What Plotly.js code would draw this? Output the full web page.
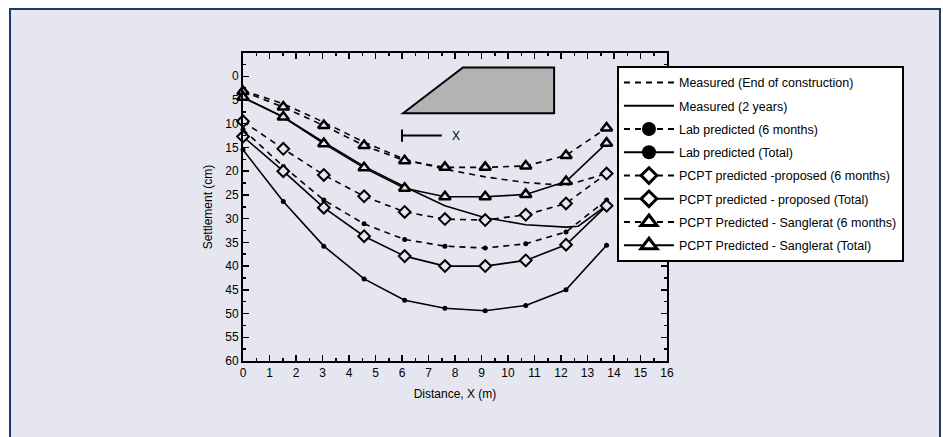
<!DOCTYPE html>
<html>
<head>
<meta charset="utf-8">
<script src="https://cdn.plot.ly/plotly-3.0.1.min.js"></script>
<style>
  html, body { margin: 0; padding: 0; background: #ffffff; }
  #frame { position: absolute; left: 9px; top: 8px; width: 928px; height: 440px;
           border: 2px solid #1b3b6b; background: #e6e6f0; }
  #chart { position: absolute; left: 0; top: 0; width: 943px; height: 437px; }
</style>
</head>
<body>
<div id="frame"></div>
<div id="chart"></div>
<script>
// Distance (m)
const distance = [0, 1.52, 3.05, 4.57, 6.10, 7.62, 9.14, 10.67, 12.19, 13.72];
const distanceMeasured2y = [0, 1.52, 3.05, 4.57, 6.10, 7.62, 9.14, 10.67, 12.19, 12.65, 13.72];

// Settlement (cm)
const measuredEOC   = [3.0, 5.8, 9.7, 13.9, 17.5, 19.6, 21.2, 22.4, 23.0, 20.5];
const measured2y    = [4.5, 8.6, 13.9, 19.0, 23.3, 27.3, 29.8, 31.3, 31.8, 31.6, 27.2];
const lab6m         = [11.2, 19.0, 26.1, 31.1, 34.4, 35.8, 36.2, 35.3, 32.8, 26.1];
const labTotal      = [15.5, 26.4, 35.8, 42.7, 47.2, 48.9, 49.4, 48.3, 45.0, 35.6];
const pcptProp6m    = [9.5, 15.3, 20.8, 25.3, 28.6, 30.1, 30.3, 29.2, 26.8, 20.5];
const pcptPropTotal = [12.7, 20.0, 27.7, 33.7, 37.9, 40.0, 40.0, 38.8, 35.5, 27.3];
const sang6m        = [3.2, 6.5, 10.4, 14.6, 17.8, 19.2, 19.2, 18.9, 16.7, 10.9];
const sangTotal     = [4.4, 8.6, 14.2, 19.3, 23.6, 25.4, 25.4, 24.9, 22.2, 14.1];

const seriesNames = [
  'Measured (End of construction)',
  'Measured (2 years)',
  'Lab predicted (6 months)',
  'Lab predicted (Total)',
  'PCPT predicted -proposed (6 months)',
  'PCPT predicted - proposed (Total)',
  'PCPT Predicted - Sanglerat (6 months)',
  'PCPT Predicted - Sanglerat (Total)'
];
const xTickVals = [0,1,2,3,4,5,6,7,8,9,10,11,12,13,14,15,16];
const yTickVals = [0,5,10,15,20,25,30,35,40,45,50,55,60];

const BG = '#e6e6f0';
const DASH = '6px,5px';
const LW = 1.6;

function styleFor(i, legend) {
  const dashed = (i % 2 === 0);
  const line = { color: 'black', width: legend ? 2 : LW, dash: dashed ? DASH : 'solid' };
  let marker = null, mode = 'lines';
  if (i === 2 || i === 3) {
    mode = 'lines+markers';
    marker = { symbol: 'circle', size: legend ? 14 : 5, color: 'black' };
  } else if (i === 4 || i === 5) {
    mode = 'lines+markers';
    marker = { symbol: 'diamond', size: legend ? 12 : 9, color: legend ? 'white' : BG,
               line: { color: 'black', width: legend ? 3 : 2 } };
  } else if (i === 6 || i === 7) {
    mode = 'lines+markers';
    marker = { symbol: 'triangle-up', size: legend ? 14 : 10, color: legend ? 'white' : BG,
               line: { color: 'black', width: legend ? 3 : 2.5 } };
  }
  return { line, marker, mode };
}

const ys = [measuredEOC, measured2y, lab6m, labTotal, pcptProp6m, pcptPropTotal, sang6m, sangTotal];
const xs = [distance, distanceMeasured2y, distance, distance, distance, distance, distance, distance];

const traces = [];
ys.forEach((y, i) => {
  const s = styleFor(i, false);
  const t = { x: xs[i], y: y, type: 'scatter', mode: s.mode, line: s.line, showlegend: false,
              hoverinfo: 'skip', cliponaxis: false };
  if (s.marker) t.marker = s.marker;
  traces.push(t);
});
// legend entries
seriesNames.forEach((name, i) => {
  const s = styleFor(i, true);
  const t = { x: [null], y: [null], type: 'scatter', mode: s.mode, line: s.line, name: name,
              legendgroup: 'g' + i, showlegend: true };
  if (s.marker) t.marker = s.marker;
  traces.push(t);
});

const FONT = 'Liberation Sans, Arial, sans-serif';

const layout = {
  width: 943, height: 437,
  paper_bgcolor: 'rgba(0,0,0,0)',
  plot_bgcolor: BG,
  margin: { l: 243, r: 276, t: 53, b: 76 },
  font: { family: FONT, size: 12, color: 'black' },
  showlegend: true,
  legend: {
    x: 0.882, y: 0.958, xanchor: 'left', yanchor: 'top',
    bgcolor: 'white', bordercolor: 'black', borderwidth: 2,
    font: { family: FONT, size: 12.5, color: 'black' },
    traceorder: 'grouped', tracegroupgap: 4, itemwidth: 50
  },
  xaxis: {
    range: [0, 16], tickmode: 'array', tickvals: xTickVals,
    ticks: 'inside', ticklen: 6, tickwidth: 1.5, tickcolor: 'black',
    showline: true, linecolor: 'black', linewidth: 2, mirror: 'ticks',
    showgrid: false, zeroline: false,
    minor: { dtick: 0.5, tick0: 0, ticks: 'inside', ticklen: 3, tickwidth: 1.5, tickcolor: 'black', showgrid: false },
    tickfont: { family: FONT, size: 12 },
    title: { text: 'Distance, X (m)', font: { family: FONT, size: 12 }, standoff: 10 }
  },
  yaxis: {
    range: [60, -4.9], tickmode: 'array', tickvals: yTickVals,
    ticks: 'inside', ticklen: 6, tickwidth: 1.5, tickcolor: 'black',
    showline: true, linecolor: 'black', linewidth: 2, mirror: 'ticks',
    showgrid: false, zeroline: false,
    minor: { dtick: 2.5, tick0: 0, ticks: 'inside', ticklen: 3, tickwidth: 1.5, tickcolor: 'black', showgrid: false },
    tickfont: { family: FONT, size: 12 },
    title: { text: 'Settlement (cm)', font: { family: FONT, size: 12 }, standoff: 10 }
  },
  shapes: [
    { type: 'path', xref: 'x', yref: 'y', path: 'M 6.04 7.8 L 8.30 -1.85 L 11.74 -1.85 L 11.74 7.8 Z',
      fillcolor: '#b3b3b3', line: { color: 'black', width: 2 }, layer: 'below' },
    { type: 'line', xref: 'x', yref: 'y', x0: 6.0, x1: 6.0, y0: 11.2, y1: 13.8, line: { color: 'black', width: 2 } },
    { type: 'line', xref: 'x', yref: 'y', x0: 6.0, x1: 7.5, y0: 12.5, y1: 12.5, line: { color: 'black', width: 2 } }
  ],
  annotations: [
    { xref: 'x', yref: 'y', x: 8.05, y: 12.5, text: 'X', showarrow: false,
      font: { family: FONT, size: 12 }, xanchor: 'center', yanchor: 'middle' }
  ]
};

Plotly.newPlot('chart', traces, layout, { displayModeBar: false, staticPlot: true });
</script>
</body>
</html>
